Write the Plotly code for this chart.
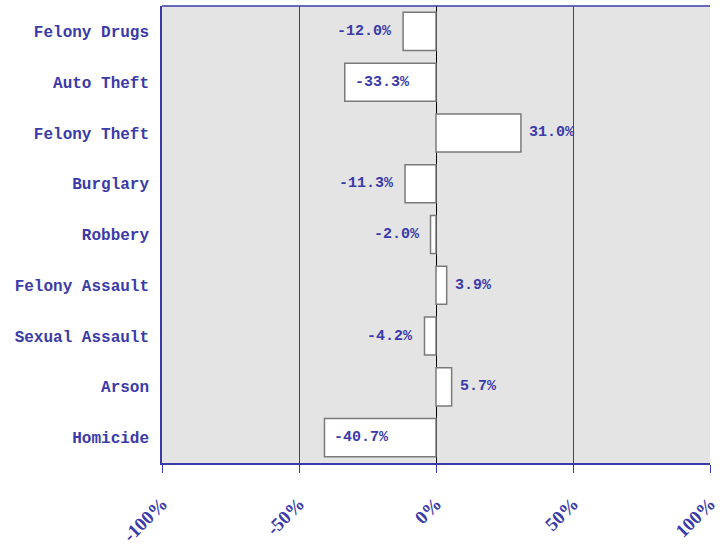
import plotly.graph_objects as go

categories = ["Felony Drugs", "Auto Theft", "Felony Theft", "Burglary", "Robbery",
              "Felony Assault", "Sexual Assault", "Arson", "Homicide"]
values = [-12.0, -33.3, 31.0, -11.3, -2.0, 3.9, -4.2, 5.7, -40.7]
label_inside = [False, True, False, False, False, False, False, False, True]
tick_vals = [-100, -50, 0, 50, 100]
tick_text = ["-100%", "-50%", "0%", "50%", "100%"]

blue = "#3a3aaa"
mono = "Liberation Mono, Courier New, monospace"
lab_font = dict(family=mono, size=15, color=blue, weight="bold")

fig = go.Figure(go.Bar(
    y=categories, x=values, orientation="h",
    marker=dict(color="white", line=dict(color="#7a7a7a", width=1.5)),
    hoverinfo="x+y",
))

for cat, v, inside in zip(categories, values, label_inside):
    if inside:
        anchor, shift = "left", 8
    elif v < 0:
        anchor, shift = "right", -9
    else:
        anchor, shift = "left", 6
    fig.add_annotation(x=v, y=cat, text=f"{v:.1f}%", showarrow=False,
                       xanchor=anchor, xshift=shift, font=lab_font)

fig.update_layout(
    width=720, height=544,
    margin=dict(l=162, r=10, t=6, b=81),
    paper_bgcolor="white", plot_bgcolor="#e4e4e4",
    bargap=0.25, showlegend=False,
    xaxis=dict(range=[-100, 100], tickvals=tick_vals, ticktext=tick_text,
               automargin=False,
               showgrid=True, gridcolor=blue, gridwidth=1,
               zeroline=True, zerolinecolor="black", zerolinewidth=1,
               showline=True, linecolor=blue, linewidth=2, mirror=False,
               ticks="outside", ticklen=8, tickcolor=blue, tickwidth=1,
               tickangle=-45, ticklabelstandoff=12,
               tickfont=dict(family="Liberation Serif, Times New Roman, serif", size=19,
                             color=blue, weight="bold")),
    yaxis=dict(autorange="reversed", showgrid=False, zeroline=False, automargin=False,
               showline=True, linecolor=blue, linewidth=1.5, mirror=False,
               ticks="", ticklabelstandoff=8,
               tickfont=dict(family=mono, size=16, color=blue, weight="bold")),
)
# top border
fig.add_shape(type="line", xref="paper", yref="paper", x0=0, x1=1, y0=1, y1=1,
              line=dict(color=blue, width=1.5))

fig.write_html("out.html", config={"displayModeBar": False},
               post_script="document.body.style.margin='0';")
